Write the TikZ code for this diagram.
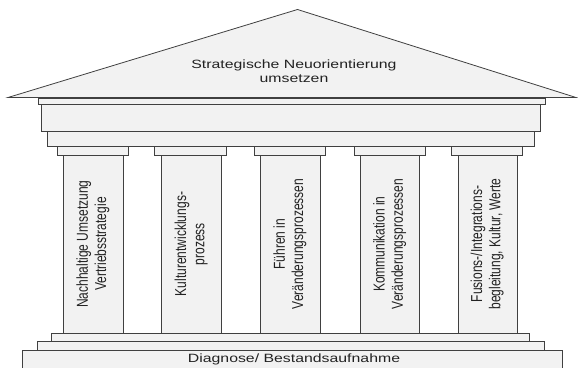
\documentclass[tikz,border=0pt]{standalone}
\usepackage{fontspec}
\setmainfont{Liberation Sans}
\usepackage{graphicx}
\definecolor{fillg}{HTML}{F2F2F2}
\definecolor{lineg}{HTML}{404040}
\definecolor{txt}{HTML}{222222}
\newcommand{\htext}[1]{\scalebox{1.32}[1]{\begin{tabular}{@{}c@{}}#1\end{tabular}}}
\newcommand{\vtext}[1]{\scalebox{1}[1.32]{\begin{tabular}{@{}c@{}}#1\end{tabular}}}
\begin{document}
\begin{tikzpicture}[x=1pt,y=-1pt,
  part/.style={draw=lineg, fill=fillg, line width=0.8pt},
  lbl/.style={font=\fontsize{12}{13.8}\selectfont, inner sep=0pt, text=txt},
  vlbl/.style={lbl, rotate=90}]
\useasboundingbox (0,0) rectangle (578,367);
% roof
\draw[part] (8,97.5) -- (297.5,9.5) -- (576,97.5) -- cycle;
\draw[part] (38.7,98.3) rectangle (545.5,104);
\draw[part] (41.6,104) rectangle (540.7,131.7);
\draw[part] (47.2,131.7) rectangle (534.5,146);
% capitals and shafts
\foreach \cl/\cr/\sl/\sr in {57/128.3/63.6/123, 154.5/226/161.6/221.5, 254/325/260.6/320, 354/425/360.5/419.8, 451.6/522.7/458.2/517.3}{
  \draw[part] (\cl,146) rectangle (\cr,155);
  \draw[part] (\sl,155) rectangle (\sr,333.3);
}
% steps and base
\draw[part] (51.6,333.3) rectangle (529.7,341);
\draw[part] (37.6,341) rectangle (544.4,350);
\fill[fillg] (22.1,350) rectangle (562.1,368);
\draw[lineg, line width=0.8pt] (22.1,368) -- (22.1,350) -- (562.1,350) -- (562.1,368);
% texts
\node[lbl] (roof) at (294,73) {\htext{Strategische Neuorientierung\\umsetzen}};
\node[lbl] (base) at (294,360) {\htext{Diagnose/ Bestandsaufnahme}};
\node[vlbl] (c1) at (93.3,244) {\vtext{Nachhaltige Umsetzung\\Vertriebsstrategie}};
\node[vlbl] (c2) at (191.5,244) {\vtext{Kulturentwicklungs-\\prozess}};
\node[vlbl] (c3) at (290.3,244) {\vtext{Führen in\\Veränderungsprozessen}};
\node[vlbl] (c4) at (390.1,244) {\vtext{Kommunikation in\\Veränderungsprozessen}};
\node[vlbl] (c5) at (487.7,244) {\vtext{Fusions-/Integrations-\\begleitung, Kultur, Werte}};
\end{tikzpicture}
\end{document}
